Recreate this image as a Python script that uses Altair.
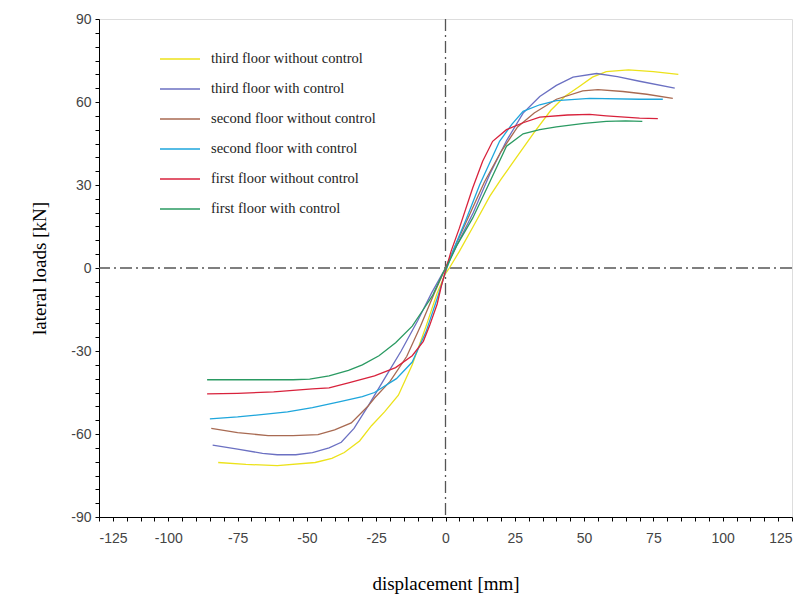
import altair as alt
import pandas as pd

series_names = [
    "third floor without control",
    "third floor with control",
    "second floor without control",
    "second floor with control",
    "first floor without control",
    "first floor with control",
]
series_colors = ["#ece21a", "#6b70c2", "#a86a52", "#1ea6dc", "#d8223c", "#2a9a62"]

third_without_x = [-82, -72, -60.7, -47, -41, -36.5, -31, -26.7, -22, -17, -12, -7, -3, 0, 1.4, 5, 10, 16, 20, 25.6, 32, 38, 43, 48.4, 53, 58, 66, 75, 84]
third_without_y = [-70.3, -71, -71.4, -70.3, -68.8, -66.7, -62.5, -57, -52, -46, -35, -21, -9, -2, 0, 6, 15, 26, 32, 40, 49, 57, 62, 65.7, 69, 71, 71.6, 71, 70]

third_with_x = [-84, -75, -66, -60.7, -54, -48, -42, -37.6, -33, -28, -22, -16, -10, -5, 0, 5, 10, 16, 22, 28, 34, 40, 46, 54.5, 62, 70, 82.7]
third_with_y = [-64, -65.5, -67, -67.5, -67.5, -66.7, -65, -63, -58, -50, -40, -30, -19, -9, 0, 10, 20, 34, 46, 56, 62, 66, 69, 70.3, 69.2, 67.5, 65]

second_without_x = [-84.5, -75, -64, -55, -46, -40, -34, -28, -25.6, -20, -14, -9, -4, 0, 4, 9, 14, 20, 26, 32, 40, 49.5, 55, 64, 72.6, 82]
second_without_y = [-58, -59.5, -60.6, -60.6, -60.2, -58.5, -56, -50, -47, -41, -32, -21, -9, 0, 9, 20, 31, 42, 51, 56, 61, 64, 64.5, 63.8, 62.8, 61.3]

second_with_x = [-85, -75, -66.5, -57, -48, -38, -30, -25.6, -17.7, -12, -7, -3, 0, 3, 7.6, 12.3, 19.5, 24, 28, 34, 40, 52, 70, 78.4]
second_with_y = [-54.5, -53.8, -53, -52, -50.5, -48.3, -46.5, -45, -40, -34, -23, -11, -1.5, 7, 18, 30, 45.8, 52, 56.6, 59, 60.5, 61.3, 61, 61]

first_without_x = [-86, -75, -62, -48, -42, -35, -25.6, -18, -12, -8, -5.8, -3, -1.5, 0, 2, 5, 9.8, 13.4, 17, 22, 28, 34, 44, 52, 58, 70, 76.6]
first_without_y = [-45.5, -45.3, -44.8, -43.7, -43.3, -41.5, -39, -36, -31.7, -26.5, -21, -13, -6.5, -1, 6, 14.4, 28.9, 38.6, 45.8, 50, 52.5, 54.5, 55.3, 55.5, 55, 54.2, 54]

first_with_x = [-86, -70, -55, -49, -42, -35, -30, -24, -18, -12, -8, -4.7, -1, 0.5, 4, 9.8, 15, 22, 28, 34, 40, 50, 58, 65, 71]
first_with_y = [-40.4, -40.4, -40.4, -40.2, -39, -37, -35, -31.7, -27, -21, -15, -10, -2, 0.5, 8, 18, 29, 44, 48.5, 50, 51, 52.3, 53, 53.2, 53]

xs = [third_without_x, third_with_x, second_without_x, second_with_x, first_without_x, first_with_x]
ys = [third_without_y, third_with_y, second_without_y, second_with_y, first_without_y, first_with_y]

rows = []
for name, xv, yv in zip(series_names, xs, ys):
    for i, (a, b) in enumerate(zip(xv, yv)):
        rows.append({"series": name, "order": i, "disp": a, "load": b})
df = pd.DataFrame(rows)

x_ticks = list(range(-125, 126, 5))
y_ticks = list(range(-90, 91, 5))

x_scale = alt.Scale(domain=[-125, 125], nice=False, zero=False)
y_scale = alt.Scale(domain=[-90, 90], nice=False, zero=False)

lines = alt.Chart(df).mark_line(strokeWidth=1.3).encode(
    x=alt.X("disp:Q", scale=x_scale, title="displacement [mm]",
            axis=alt.Axis(values=x_ticks, tickCount=100,
                          labelExpr="datum.value % 25 == 0 ? '' + datum.value : ''",
                          labelOverlap=False, grid=False, tickSize=4, tickColor="black",
                          domainColor="black", labelColor="#444", labelFont="Liberation Sans",
                          labelFontSize=14, labelPadding=10, titleFont="Liberation Serif",
                          titleFontSize=19, titleFontWeight="normal", titleColor="black",
                          titlePadding=29)),
    y=alt.Y("load:Q", scale=y_scale, title="lateral loads [kN]",
            axis=alt.Axis(values=y_ticks, tickCount=100,
                          labelExpr="datum.value % 30 == 0 ? '' + datum.value : ''",
                          labelOverlap=False, grid=False, tickSize=4, tickColor="black",
                          domainColor="black", labelColor="#444", labelFont="Liberation Sans",
                          labelFontSize=14, labelPadding=4, titleFont="Liberation Serif",
                          titleFontSize=19, titleFontWeight="normal", titleColor="black",
                          titlePadding=21)),
    color=alt.Color("series:N", scale=alt.Scale(domain=series_names, range=series_colors),
                    sort=series_names,
                    legend=alt.Legend(title=None, orient="none", legendX=60, legendY=19,
                                      symbolType="stroke", symbolSize=1600, symbolStrokeWidth=1.5,
                                      labelFont="Liberation Serif", labelFontSize=14.5,
                                      labelLimit=400, labelColor="#222", rowPadding=2,
                                      labelOffset=10)),
    order="order:Q",
)

ref_x = pd.DataFrame({"v": [0]})
vrule = alt.Chart(ref_x).mark_rule(color="#555", strokeWidth=1.3, strokeDash=[12, 4, 2, 4]).encode(
    x=alt.X("v:Q", scale=x_scale))
hrule = alt.Chart(ref_x).mark_rule(color="#555", strokeWidth=1.3, strokeDash=[12, 4, 2, 4]).encode(
    y=alt.Y("v:Q", scale=y_scale))

chart = alt.layer(vrule, hrule, lines).properties(
    width=693, height=498, padding={"left": 22, "top": 4, "right": 5, "bottom": 5}
).configure_view(stroke="black", strokeWidth=1).configure(background="white")

chart.save("out.html", embed_options={"renderer": "svg", "actions": False})
